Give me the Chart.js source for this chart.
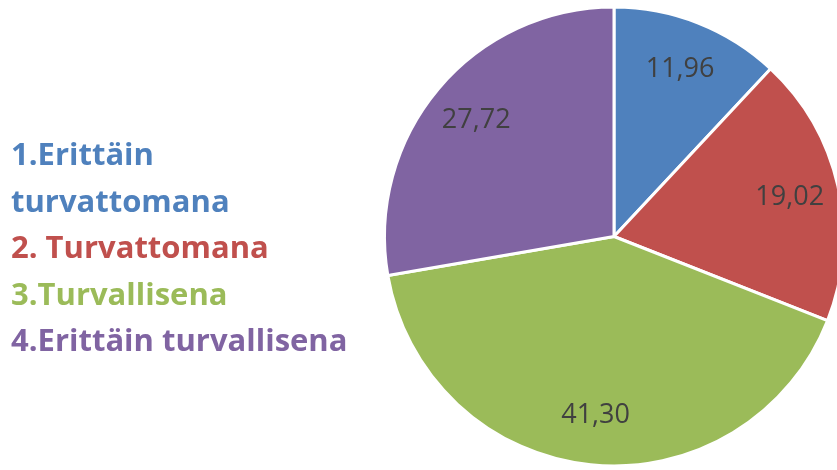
<!DOCTYPE html>
<html><head><meta charset="utf-8">
<script src="https://cdn.jsdelivr.net/npm/chart.js@4"></script>
<style>
html,body{margin:0;padding:0;background:#fff;overflow:hidden;width:837px;height:470px;}
#wrap{position:absolute;left:0;top:0;width:900px;height:470px;}
#legend{position:absolute;left:11px;top:130px;font-family:"Open Sans",sans-serif;font-weight:bold;font-size:31px;line-height:46.5px;}
#legend div{white-space:nowrap;}
</style></head>
<body>
<div id="wrap"><canvas id="c" width="900" height="470"></canvas></div>
<div id="legend"></div>
<script>
const categories = ["1.Erittäin turvattomana", "2. Turvattomana", "3.Turvallisena", "4.Erittäin turvallisena"];
const legendLines = [["1.Erittäin", "turvattomana"], ["2. Turvattomana"], ["3.Turvallisena"], ["4.Erittäin turvallisena"]];
const values = [11.96, 19.02, 41.30, 27.72];
const valueLabels = ["11,96", "19,02", "41,30", "27,72"];
const colors = ["#4F81BD", "#C0504D", "#9BBB59", "#8064A2"];

const leg = document.getElementById('legend');
legendLines.forEach((lines, i) => {
  lines.forEach(t => {
    const d = document.createElement('div');
    d.textContent = t;
    d.style.color = colors[i];
    leg.appendChild(d);
  });
});

const labelPlugin = {
  id: 'sliceLabels',
  afterDatasetsDraw(chart) {
    const ctx = chart.ctx;
    const meta = chart.getDatasetMeta(0);
    ctx.save();
    ctx.font = '27px "Open Sans", sans-serif';
    ctx.fillStyle = '#404040';
    ctx.textAlign = 'center';
    ctx.textBaseline = 'middle';
    meta.data.forEach((arc, i) => {
      const p = arc.getProps(['x','y','startAngle','endAngle','outerRadius'], true);
      const a = (p.startAngle + p.endAngle) / 2;
      const r = p.outerRadius * 0.785;
      ctx.fillText(valueLabels[i], p.x + Math.cos(a) * r, p.y + Math.sin(a) * r);
    });
    ctx.restore();
  }
};

new Chart(document.getElementById('c'), {
  type: 'pie',
  data: {
    labels: categories,
    datasets: [{
      data: values,
      backgroundColor: colors,
      borderColor: '#ffffff',
      borderWidth: 3
    }]
  },
  options: {
    responsive: false,
    animation: false,
    layout: { padding: { left: 383, right: 55, top: 5, bottom: 2 } },
    plugins: { legend: { display: false }, tooltip: { enabled: false } }
  },
  plugins: [labelPlugin]
});
</script>
</body></html>
